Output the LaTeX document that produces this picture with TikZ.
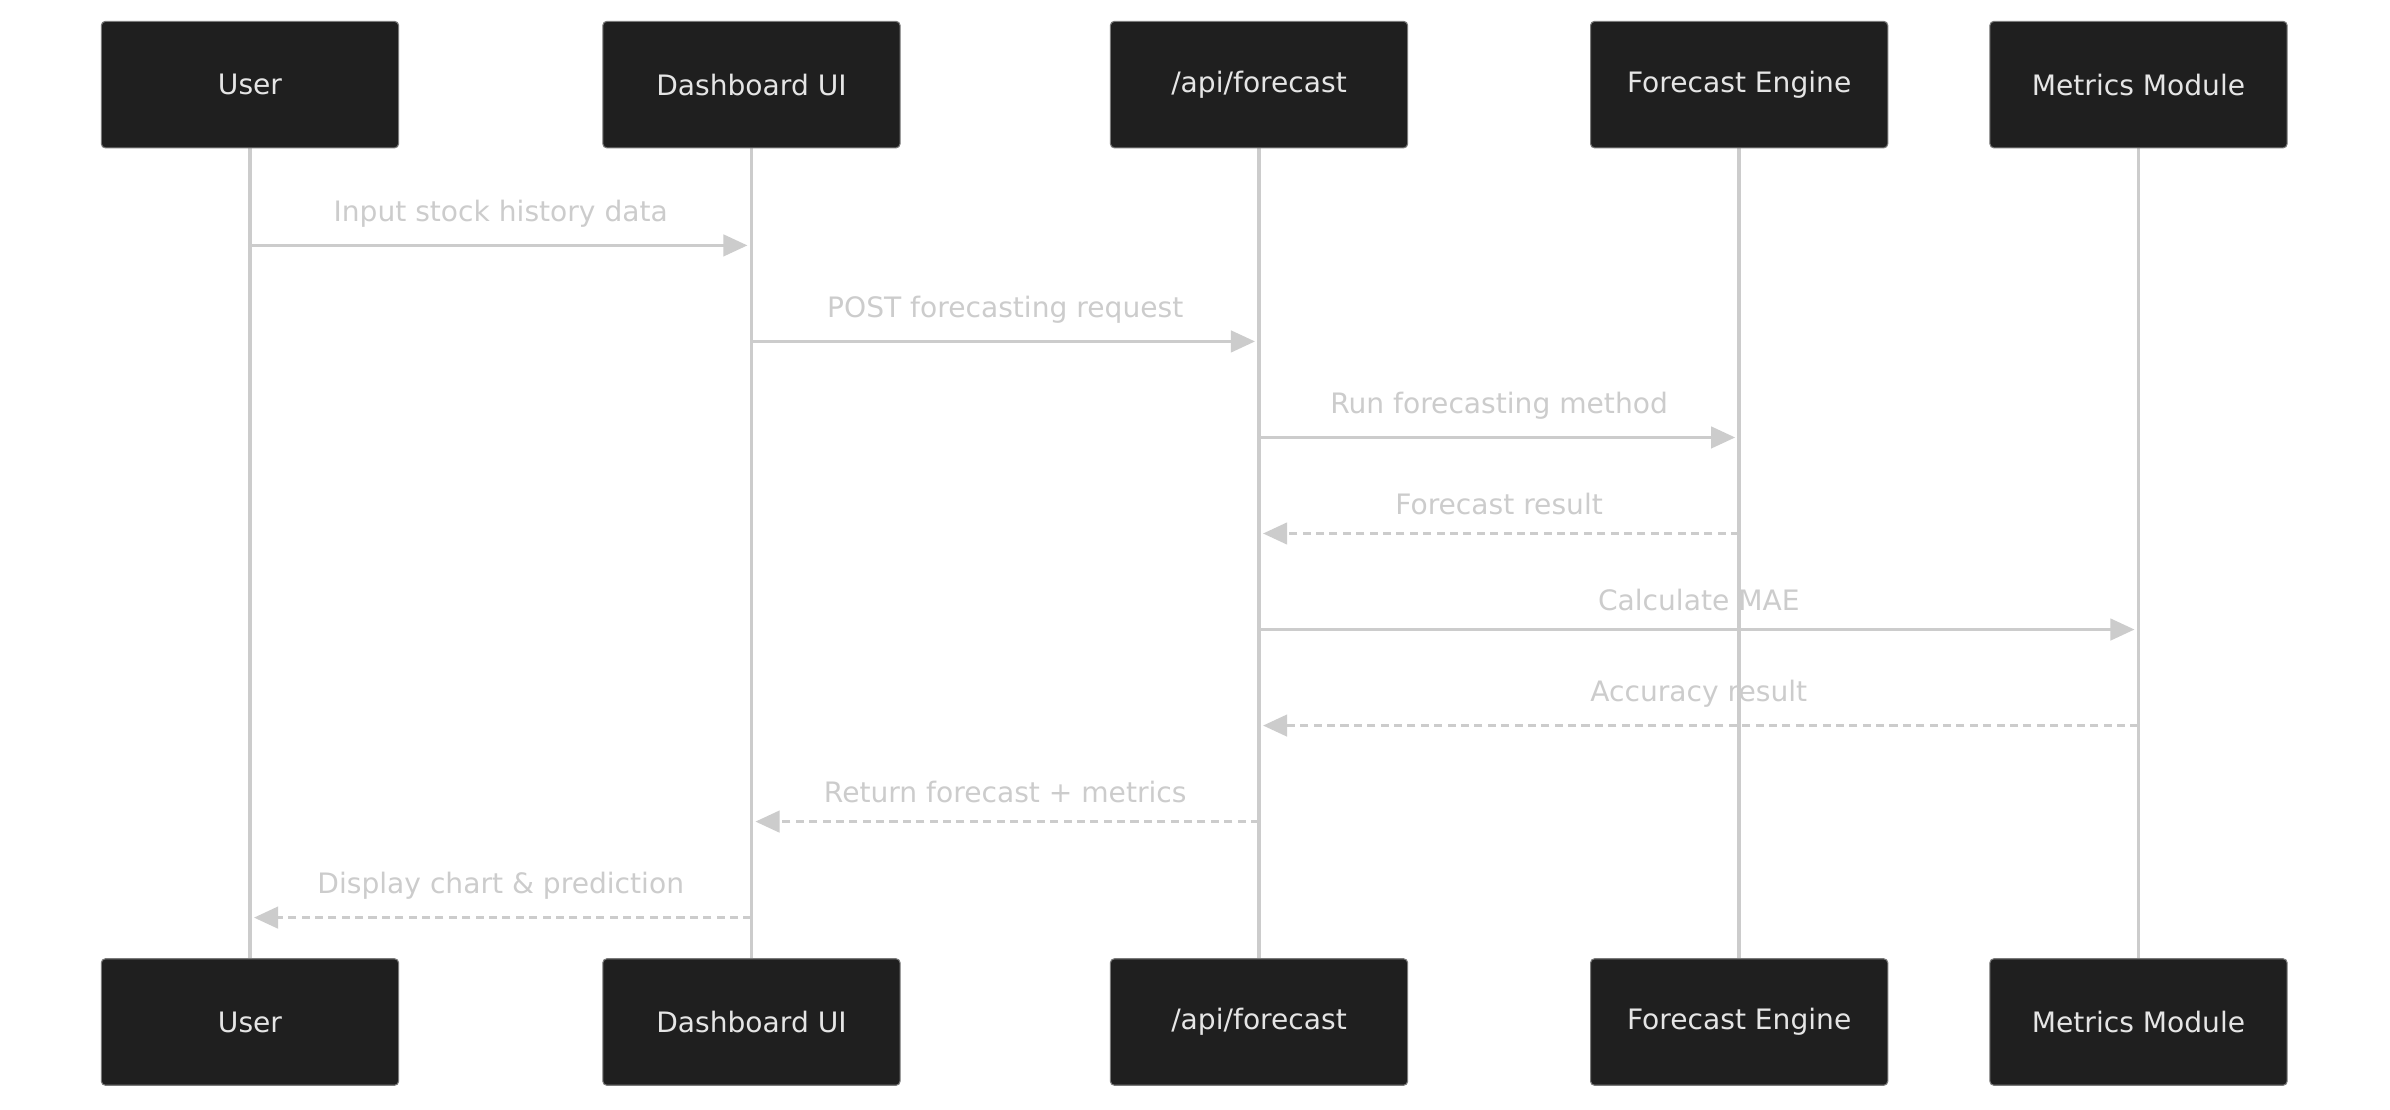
\documentclass[tikz,border=0pt]{standalone}
\usepackage{fontspec}
\setmainfont{DejaVu Sans}
\usetikzlibrary{arrows.meta}
\definecolor{boxfill}{HTML}{1F1F1F}
\definecolor{lineclr}{HTML}{CCCCCC}
\definecolor{msgtext}{HTML}{CCCCCC}
\tikzset{
  actor/.style={draw=lineclr!60!black, fill=boxfill, text=white!90!black, rounded corners=1.5pt,
    minimum width=195*0.02cm, minimum height=83*0.02cm, font=\fontsize{10.5}{12}\selectfont},
  life/.style={draw=lineclr, line width=1.4pt},
  msg/.style={draw=lineclr, line width=1.2pt, -{Triangle[length=9pt,width=8pt]}},
  reply/.style={msg, dash pattern=on 3pt off 2pt},
  lbl/.style={text=msgtext, font=\fontsize{10.5}{12}\selectfont, above=3pt}
}
\begin{document}
\begin{tikzpicture}[x=0.02cm, y=-0.02cm]
    \useasboundingbox[fill=white] (0,0) rectangle (1568,728);

    % lifelines with their head and foot boxes
    \foreach \name/\xx/\txt in {usr/164/User, dash/493/Dashboard UI, api/826/{/api/forecast},
        eng/1141/Forecast Engine, met/1403/Metrics Module} {
      \draw[life] (\xx,97) -- (\xx,629);
      \node[actor] (\name-top) at (\xx,55.5) {\txt};
      \node[actor] (\name-bot) at (\xx,670.5) {\txt};
    }

    % messages
    \foreach \a/\b/\yy/\sty/\txt in {
        usr/dash/161/msg/Input stock history data,
        dash/api/224/msg/POST forecasting request,
        api/eng/287/msg/Run forecasting method,
        eng/api/350/reply/Forecast result,
        api/met/413/msg/Calculate MAE/MAPE/RMSE,
        met/api/476/reply/Accuracy result,
        api/dash/539/reply/Return forecast + metrics,
        dash/usr/602/reply/Display chart \& prediction} {
      \coordinate (s) at (\a-top.south |- 0,\yy);
      \coordinate (t) at (\b-top.south |- 0,\yy);
      \draw[\sty, shorten >=1.5pt] (s) -- (t) node[midway, lbl] {\txt};
    }
\end{tikzpicture}
\end{document}
